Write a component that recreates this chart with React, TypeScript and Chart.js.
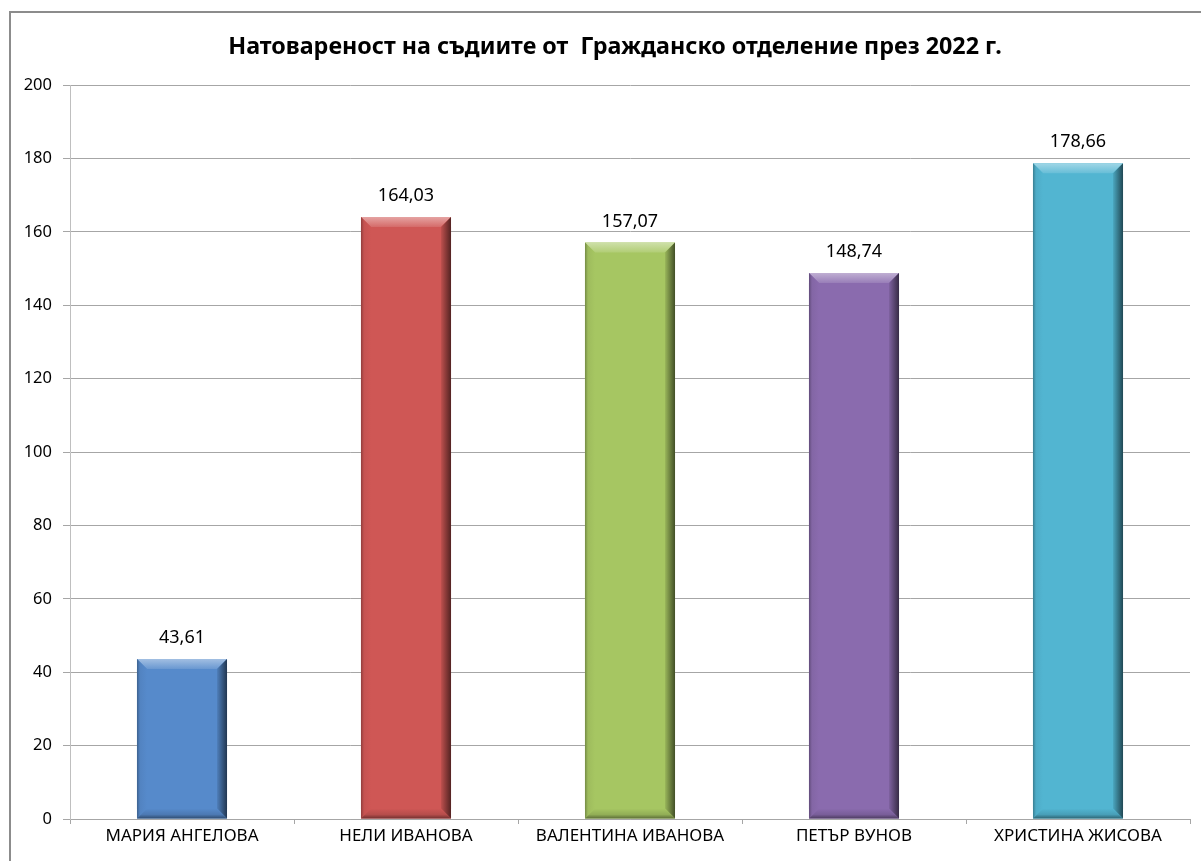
import React, { useEffect, useRef } from "react";
import { Chart, registerables } from "chart.js";

Chart.register(...registerables);

const TITLE = "Натовареност на съдиите от  Гражданско отделение през 2022 г.";
const categories = [
  "МАРИЯ АНГЕЛОВА",
  "НЕЛИ ИВАНОВА",
  "ВАЛЕНТИНА ИВАНОВА",
  "ПЕТЪР ВУНОВ",
  "ХРИСТИНА ЖИСОВА",
];
const values = [43.61, 164.03, 157.07, 148.74, 178.66];
const valueLabels = ["43,61", "164,03", "157,07", "148,74", "178,66"];
const barColors = ["#568acb", "#cf5755", "#a6c662", "#8a6bae", "#52b5d1"];
const yMin = 0;
const yMax = 200;
const yStep = 20;

const FONT = "'Noto Sans', 'Open Sans', sans-serif";

function mix(hex: string, target: number, amt: number): string {
  const n = parseInt(hex.slice(1), 16);
  const r = (n >> 16) & 255;
  const g = (n >> 8) & 255;
  const b = n & 255;
  const m = (c: number) => Math.round(c + (target - c) * amt);
  return `rgb(${m(r)},${m(g)},${m(b)})`;
}

const framePlugin = {
  id: "frame",
  beforeDraw(chart: any) {
    const ctx = chart.ctx;
    ctx.save();
    ctx.fillStyle = "#ffffff";
    ctx.fillRect(0, 0, chart.width, chart.height);
    ctx.strokeStyle = "#8c8c8c";
    ctx.lineWidth = 2;
    ctx.beginPath();
    ctx.moveTo(10, chart.height + 5);
    ctx.lineTo(10, 12);
    ctx.lineTo(chart.width + 5, 12);
    ctx.stroke();
    ctx.fillStyle = "#000";
    ctx.font = `bold 23.3px ${FONT}`;
    ctx.textAlign = "center";
    ctx.textBaseline = "middle";
    ctx.fillText(TITLE, 615, 47);
    ctx.restore();
  },
};

const bevelPlugin = {
  id: "bevel",
  afterDatasetsDraw(chart: any) {
    const ctx = chart.ctx;
    const meta = chart.getDatasetMeta(0);
    meta.data.forEach((bar: any, i: number) => {
      const { x, y, base, width } = bar.getProps(["x", "y", "base", "width"], true);
      const l = x - width / 2;
      const r = x + width / 2;
      const t = Math.min(y, base);
      const bt = Math.max(y, base);
      const b = Math.min(10, (bt - t) / 2);
      const c = barColors[i];
      ctx.save();
      // top
      let g = ctx.createLinearGradient(0, t, 0, t + b);
      g.addColorStop(0, mix(c, 255, 0.45));
      g.addColorStop(1, mix(c, 255, 0.12));
      ctx.fillStyle = g;
      ctx.beginPath();
      ctx.moveTo(l, t);
      ctx.lineTo(r, t);
      ctx.lineTo(r - b, t + b);
      ctx.lineTo(l + b, t + b);
      ctx.closePath();
      ctx.fill();
      // left
      g = ctx.createLinearGradient(l, 0, l + b, 0);
      g.addColorStop(0, mix(c, 0, 0.3));
      g.addColorStop(0.3, mix(c, 0, 0.05));
      g.addColorStop(1, c);
      ctx.fillStyle = g;
      ctx.beginPath();
      ctx.moveTo(l, t);
      ctx.lineTo(l + b, t + b);
      ctx.lineTo(l + b, bt - b);
      ctx.lineTo(l, bt);
      ctx.closePath();
      ctx.fill();
      // right
      g = ctx.createLinearGradient(r - b, 0, r, 0);
      g.addColorStop(0, mix(c, 0, 0.08));
      g.addColorStop(1, mix(c, 0, 0.6));
      ctx.fillStyle = g;
      ctx.beginPath();
      ctx.moveTo(r, t);
      ctx.lineTo(r, bt);
      ctx.lineTo(r - b, bt - b);
      ctx.lineTo(r - b, t + b);
      ctx.closePath();
      ctx.fill();
      // bottom
      g = ctx.createLinearGradient(0, bt - b, 0, bt);
      g.addColorStop(0, c);
      g.addColorStop(0.6, mix(c, 0, 0.12));
      g.addColorStop(1, mix(c, 0, 0.45));
      ctx.fillStyle = g;
      ctx.beginPath();
      ctx.moveTo(l, bt);
      ctx.lineTo(r, bt);
      ctx.lineTo(r - b, bt - b);
      ctx.lineTo(l + b, bt - b);
      ctx.closePath();
      ctx.fill();
      // value label
      ctx.fillStyle = "#000";
      ctx.font = `18px ${FONT}`;
      ctx.textAlign = "center";
      ctx.textBaseline = "bottom";
      ctx.fillText(valueLabels[i], x, t - 12);
      ctx.restore();
    });
  },
};

export default function App() {
  const ref = useRef<HTMLCanvasElement | null>(null);
  useEffect(() => {
    if (!ref.current) return;
    const chart = new Chart(ref.current, {
      type: "bar",
      data: {
        labels: categories,
        datasets: [
          {
            data: values,
            backgroundColor: barColors,
            borderWidth: 0,
            categoryPercentage: 1,
            barPercentage: 0.402,
          },
        ],
      },
      options: {
        responsive: false,
        animation: false,
        layout: { padding: { top: 85, right: 11, bottom: 0, left: 0 } },
        plugins: {
          legend: { display: false },
          title: { display: false },
          tooltip: { enabled: false },
        },
        scales: {
          x: {
            afterFit: (s: any) => {
              s.height = 42;
            },
            grid: {
              display: true,
              drawOnChartArea: false,
              drawTicks: true,
              tickLength: 5,
              color: "#a6a6a6",
              offset: true,
            },
            border: { display: true, color: "#a6a6a6", width: 1 },
            ticks: {
              color: "#000",
              font: { family: FONT, size: 17 },
              padding: 2,
              maxRotation: 0,
              autoSkip: false,
            },
          },
          y: {
            min: yMin,
            max: yMax,
            afterFit: (s: any) => {
              s.width = 70;
            },
            grid: {
              color: "#a6a6a6",
              drawTicks: true,
              tickLength: 7,
            },
            border: { display: true, color: "#bfbfbf", width: 1 },
            ticks: {
              stepSize: yStep,
              color: "#000",
              font: { family: FONT, size: 16.5 },
              padding: 11,
            },
          },
        },
      },
      plugins: [framePlugin, bevelPlugin],
    });
    return () => chart.destroy();
  }, []);
  return (
    <canvas
      ref={ref}
      width={1201}
      height={861}
      style={{ position: "fixed", left: 0, top: 0, display: "block" }}
    />
  );
}
